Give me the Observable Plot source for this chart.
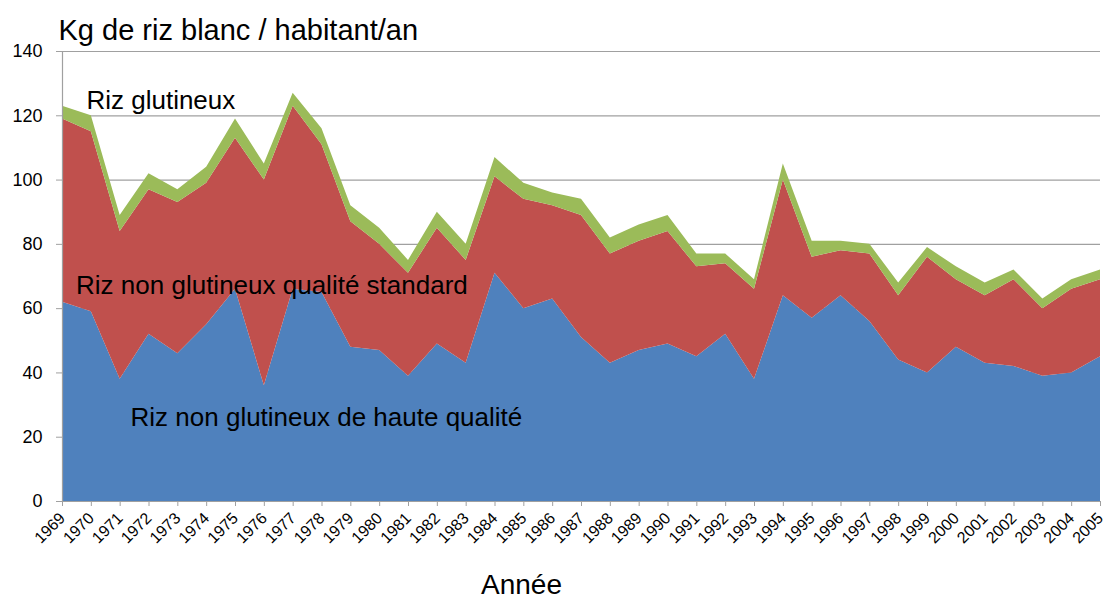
<!DOCTYPE html>
<html>
<head>
<meta charset="utf-8">
<script src="https://cdn.jsdelivr.net/npm/d3@7"></script>
<script src="https://cdn.jsdelivr.net/npm/@observablehq/plot@0.6"></script>
<style>
  html, body { margin: 0; padding: 0; background: #fff; }
  #chart svg { display: block; }
</style>
</head>
<body>
<div id="chart"></div>
<script>
const years = [1969,1970,1971,1972,1973,1974,1975,1976,1977,1978,1979,1980,1981,1982,1983,1984,1985,1986,1987,1988,1989,1990,1991,1992,1993,1994,1995,1996,1997,1998,1999,2000,2001,2002,2003,2004,2005];
const seriesNames = ["Riz non glutineux de haute qualité", "Riz non glutineux qualité standard", "Riz glutineux"];
const hauteQualite = [62,59,38,52,46,55,66,36,66,65,48,47,39,49,43,71,60,63,51,43,47,49,45,52,38,64,57,64,56,44,40,48,43,42,39,40,45];
const qualiteStandard = [57,56,46,45,47,44,47,64,57,46,39,33,32,36,32,30,34,29,38,34,34,35,28,22,28,36,19,14,21,20,36,21,21,27,21,26,24];
const glutineux = [4,5,5,5,4,5,6,5,4,5,5,5,4,5,5,6,5,4,5,5,5,5,4,3,3,5,5,3,3,4,3,4,4,3,3,3,3];
const yTicks = [0,20,40,60,80,100,120,140];
const colors = ["#4F81BD", "#C0504D", "#9BBB59"];
const titleText = "Kg de riz blanc / habitant/an";
const xLabelText = "Année";

const valuesBySeries = [hauteQualite, qualiteStandard, glutineux];
const data = [];
years.forEach((yr, i) => {
  seriesNames.forEach((s, k) => data.push({year: yr, series: s, value: valuesBySeries[k][i]}));
});

const annotations = [
  {text: seriesNames[2], x: 1969.83, y: 122.1},
  {text: seriesNames[1], x: 1969.47, y: 64.7},
  {text: seriesNames[0], x: 1971.36, y: 23.4}
];

const gray = "#a0a0a0";
const font = "'Liberation Sans', Arial, sans-serif";

const chart = Plot.plot({
  width: 1103,
  height: 599,
  marginLeft: 62,
  marginRight: 3,
  marginTop: 51,
  marginBottom: 98,
  style: {fontFamily: font, background: "#fff", color: "#000"},
  x: {domain: [years[0], years[years.length - 1]]},
  y: {domain: [0, 140]},
  color: {domain: seriesNames, range: colors},
  marks: [
    Plot.gridY(yTicks, {stroke: gray, strokeOpacity: 1, strokeWidth: 1.2}),
    Plot.areaY(data, {x: "year", y: "value", fill: "series", z: "series"}),
    Plot.ruleX([years[0]], {stroke: gray, strokeWidth: 1.2}),
    Plot.ruleY([0], {stroke: gray, strokeWidth: 1.2}),
    Plot.axisY(yTicks, {tickSize: 6, tickPadding: 14, fontSize: 18, stroke: gray, fill: "#000", label: null}),
    Plot.axisX(years, {tickSize: 5, tickPadding: 9, tickRotate: -45, fontSize: 16, stroke: gray, fill: "#000", tickFormat: d => String(d), label: null}),
    Plot.text(annotations, {x: "x", y: "y", text: "text", textAnchor: "start", lineAnchor: "bottom", fontSize: 26, fill: "#000"}),
    Plot.text([titleText], {frameAnchor: "top-left", dx: -4, dy: -12, textAnchor: "start", lineAnchor: "bottom", fontSize: 29, fill: "#000"}),
    Plot.text([xLabelText], {frameAnchor: "bottom", dx: -60, dy: 92, lineAnchor: "bottom", fontSize: 28, fill: "#000"})
  ]
});
document.getElementById("chart").appendChild(chart);
</script>
</body>
</html>
